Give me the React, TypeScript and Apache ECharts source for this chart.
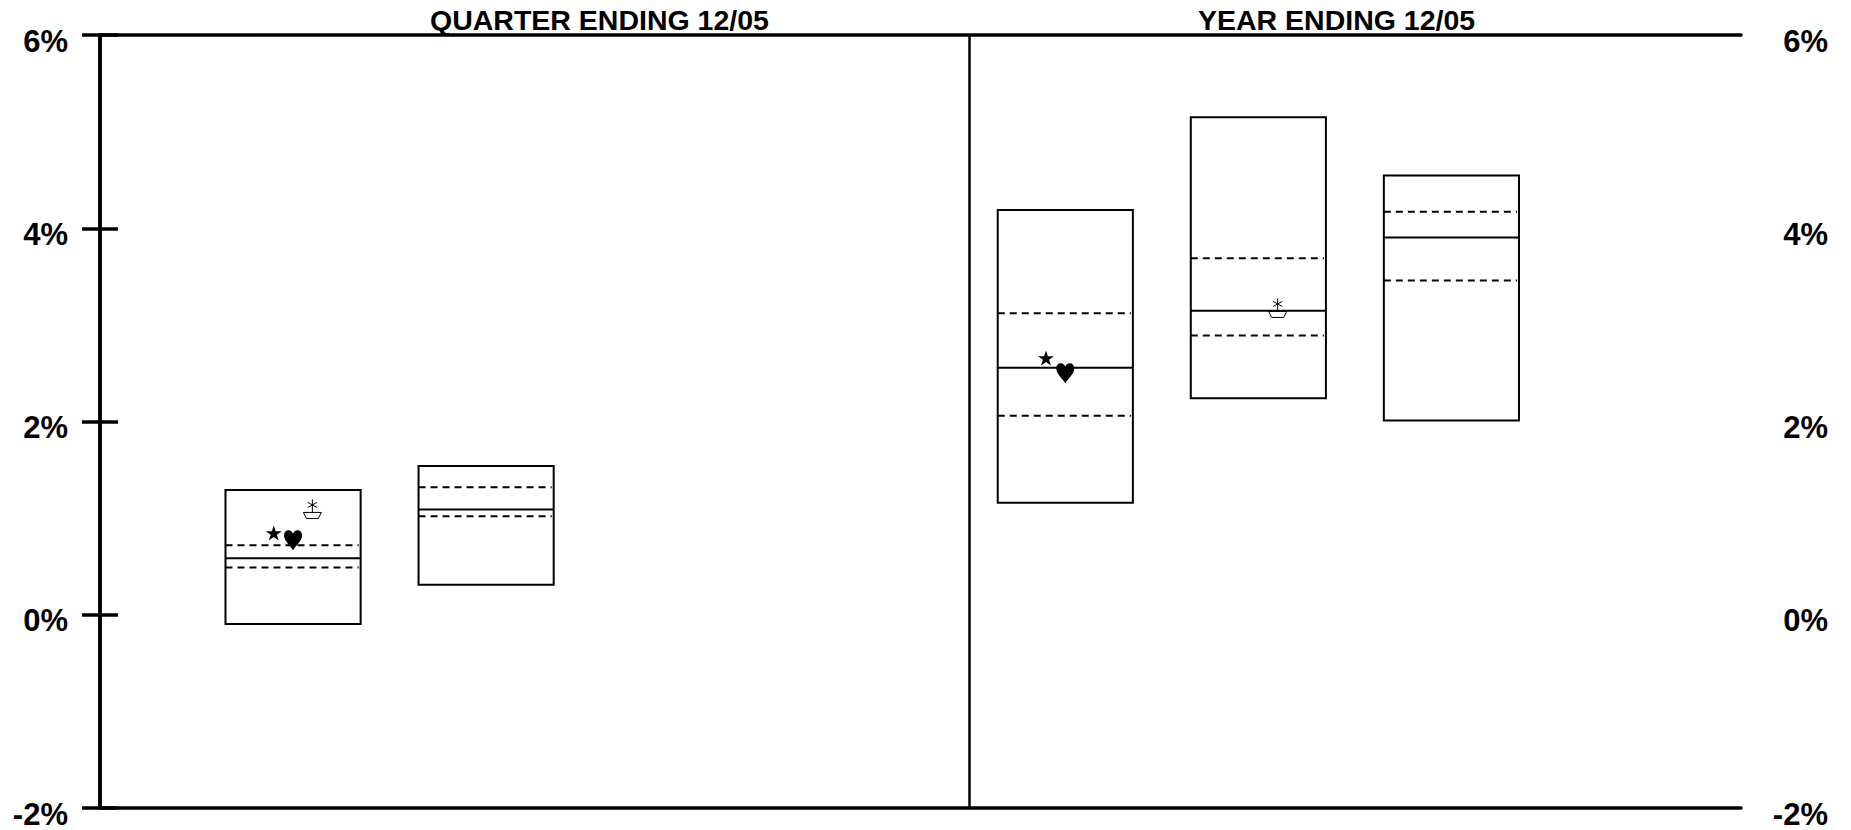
import React, { useEffect, useRef } from "react";
import * as echarts from "echarts";

// ---- data ----
const panelTitles = ["QUARTER ENDING 12/05", "YEAR ENDING 12/05"];
const panelTitleLeft = [430, 1198];
const yMin = -2;
const yMax = 6;
const yStep = 2;
const xMin = 0;
const xMax = 8.5;
const panelDivider = 4.5;
const boxWidth = 0.7;

// box positions (slot units) and percentile values (%)
const boxX = [1, 2, 5, 6, 7];
const boxTop = [1.29, 1.54, 4.19, 5.15, 4.545];
const boxUpper = [0.72, 1.32, 3.12, 3.69, 4.17];
const boxMedian = [0.585, 1.09, 2.555, 3.145, 3.905];
const boxLower = [0.49, 1.02, 2.06, 2.89, 3.46];
const boxBottom = [-0.095, 0.31, 1.16, 2.24, 2.01];

// markers
const starX = [0.9, 4.9];
const starY = [0.846, 2.657];
const heartX = [1.0, 5.0];
const heartY = [0.77, 2.5];
const boatX = [1.1, 6.1];
const boatY = [1.09, 3.17];

const FONT = '"Liberation Sans", Arial, sans-serif';

const STAR_PATH =
  "path://M10,0 L12.245,6.91 L19.511,6.91 L13.633,11.18 L15.878,18.09 L10,13.82 L4.122,18.09 L6.367,11.18 L0.489,6.91 L7.755,6.91 Z";
const HEART_PATH =
  "path://M10,20 C7,15 0,11 0,5 C0,2 2,0 5,0 C7.5,0 9,1.5 10,3.5 C11,1.5 12.5,0 15,0 C18,0 20,2 20,5 C20,11 13,15 10,20 Z";

export default function App() {
  const ref = useRef<HTMLDivElement>(null);

  useEffect(() => {
    if (!ref.current) return;
    const chart = echarts.init(ref.current, null, { renderer: "svg" });

    const boxData = boxX.map((x, i) => [
      x,
      boxTop[i],
      boxUpper[i],
      boxMedian[i],
      boxLower[i],
      boxBottom[i],
    ]);

    const axisLineStyle = { color: "#000", width: 3.5 };
    const labelStyle = {
      formatter: "{value}%",
      color: "#000",
      fontFamily: FONT,
      fontWeight: "bold" as const,
      fontSize: 31,
      verticalAlign: "top",
      lineHeight: 12,
    };

    const option: any = {
      animation: false,
      backgroundColor: "#fff",
      grid: {
        left: 100,
        right: 110,
        top: 35,
        bottom: 22,
        containLabel: false,
        outerBoundsMode: "none",
      },
      graphic: panelTitles.map((t, i) => ({
        type: "text",
        left: panelTitleLeft[i],
        top: 5,
        style: {
          text: t,
          fill: "#000",
          font: `bold 28.5px ${FONT}`,
        },
      })),
      xAxis: [
        {
          type: "value",
          position: "bottom",
          min: xMin,
          max: xMax,
          axisLine: { show: true, onZero: false, lineStyle: axisLineStyle },
          axisTick: { show: false },
          axisLabel: { show: false },
          splitLine: { show: false },
        },
        {
          type: "value",
          position: "top",
          min: xMin,
          max: xMax,
          axisLine: { show: true, onZero: false, lineStyle: axisLineStyle },
          axisTick: { show: false },
          axisLabel: { show: false },
          splitLine: { show: false },
        },
      ],
      yAxis: [
        {
          type: "value",
          position: "left",
          min: yMin,
          max: yMax,
          interval: yStep,
          axisLine: { show: true, lineStyle: axisLineStyle },
          axisTick: { show: true, length: 18, lineStyle: axisLineStyle },
          axisLabel: { ...labelStyle, margin: 32 },
          splitLine: { show: false },
        },
        {
          type: "value",
          position: "right",
          min: yMin,
          max: yMax,
          interval: yStep,
          axisLine: { show: true, lineStyle: axisLineStyle },
          axisTick: { show: true, length: 18, lineStyle: axisLineStyle },
          axisLabel: { ...labelStyle, margin: 87, align: "right" },
          splitLine: { show: false },
        },
      ],
      series: [
        {
          type: "custom",
          name: "boxes",
          xAxisIndex: 0,
          yAxisIndex: 0,
          data: boxData,
          renderItem: (params: any, api: any) => {
            const x = api.value(0);
            const top = api.coord([x, api.value(1)]);
            const up = api.coord([x, api.value(2)]);
            const med = api.coord([x, api.value(3)]);
            const lo = api.coord([x, api.value(4)]);
            const bot = api.coord([x, api.value(5)]);
            const w = api.size([boxWidth, 0])[0];
            const x0 = top[0] - w / 2;
            const x1 = top[0] + w / 2;
            const solid = { stroke: "#000", lineWidth: 2, fill: "none" };
            const dashed = { stroke: "#000", lineWidth: 2, lineDash: [7, 5] };
            return {
              type: "group",
              children: [
                {
                  type: "rect",
                  shape: { x: x0, y: top[1], width: w, height: bot[1] - top[1] },
                  style: solid,
                },
                {
                  type: "line",
                  shape: { x1: x0, y1: med[1], x2: x1, y2: med[1] },
                  style: solid,
                },
                {
                  type: "line",
                  shape: { x1: x0, y1: up[1], x2: x1 - 2, y2: up[1] },
                  style: dashed,
                },
                {
                  type: "line",
                  shape: { x1: x0, y1: lo[1], x2: x1 - 2, y2: lo[1] },
                  style: dashed,
                },
              ],
            };
          },
          markLine: {
            silent: true,
            symbol: ["none", "none"],
            label: { show: false },
            lineStyle: { color: "#000", width: 2.5, type: "solid" },
            data: [{ xAxis: panelDivider }],
          },
          z: 2,
        },
        {
          type: "scatter",
          name: "star",
          symbol: STAR_PATH,
          symbolSize: [16, 15],
          itemStyle: { color: "#000", opacity: 1 },
          data: starX.map((x, i) => [x, starY[i]]),
          z: 5,
        },
        {
          type: "scatter",
          name: "heart",
          symbol: HEART_PATH,
          symbolSize: [18, 20],
          itemStyle: { color: "#000", opacity: 1 },
          data: heartX.map((x, i) => [x, heartY[i]]),
          z: 5,
        },
        {
          type: "custom",
          name: "boat",
          data: boatX.map((x, i) => [x, boatY[i]]),
          z: 5,
          renderItem: (params: any, api: any) => {
            const p = api.coord([api.value(0), api.value(1)]);
            const cx = p[0];
            const cy = p[1];
            const st = { stroke: "#000", lineWidth: 1 };
            return {
              type: "group",
              children: [
                {
                  type: "polygon",
                  shape: {
                    points: [
                      [cx - 9, cy + 3],
                      [cx + 9, cy + 3],
                      [cx + 6, cy + 9],
                      [cx - 6, cy + 9],
                    ],
                  },
                  style: { fill: "#fff", stroke: "#000", lineWidth: 1 },
                },
                { type: "line", shape: { x1: cx, y1: cy - 10, x2: cx, y2: cy + 3 }, style: st },
                { type: "line", shape: { x1: cx - 4.5, y1: cy - 7, x2: cx + 4.5, y2: cy - 2 }, style: st },
                { type: "line", shape: { x1: cx + 4.5, y1: cy - 7, x2: cx - 4.5, y2: cy - 2 }, style: st },
              ],
            };
          },
        },
      ],
    };

    chart.setOption(option);
    return () => chart.dispose();
  }, []);

  return (
    <div
      ref={ref}
      style={{
        position: "fixed",
        left: 0,
        top: 0,
        width: 1851,
        height: 830,
        background: "#fff",
      }}
    />
  );
}
